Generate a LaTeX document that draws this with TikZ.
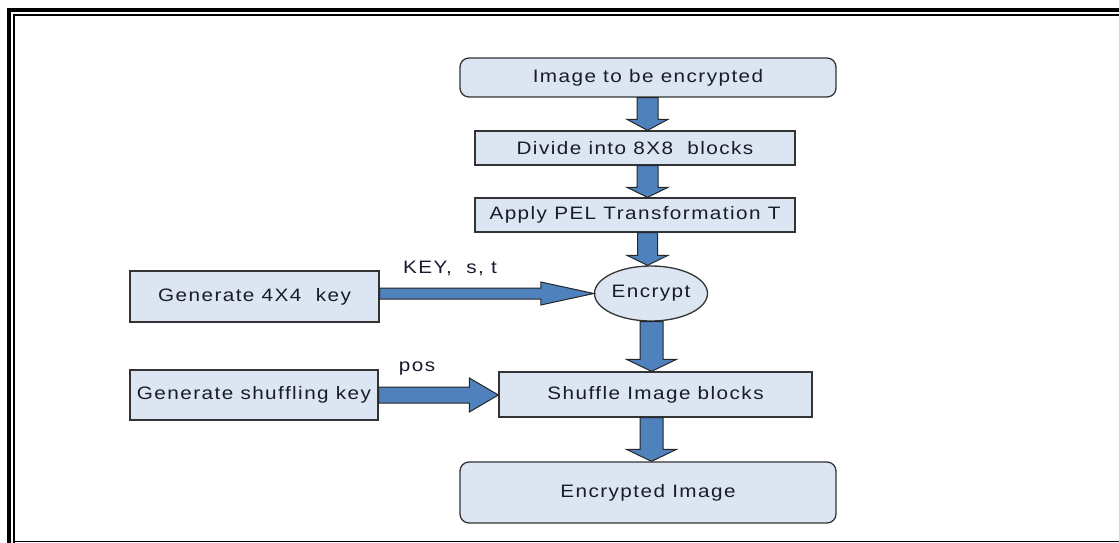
\documentclass[tikz,border=0pt]{standalone}
\usepackage{fontspec}
\setmainfont{Liberation Sans}[LetterSpace=8, FakeStretch=1.15]
\usetikzlibrary{calc,shapes.geometric}
\definecolor{boxfill}{HTML}{DCE6F2}
\definecolor{arrowfill}{HTML}{4F81BD}
\definecolor{boxline}{HTML}{333333}
\definecolor{txt}{HTML}{1A1A2E}
\tikzset{
  stepbox/.style={draw=boxline, line width=1.3pt, fill=boxfill, inner sep=0pt,
    text=txt, font=\fontsize{18}{20}\selectfont},
  roundbox/.style={stepbox, rounded corners=9pt},
  ellbox/.style={stepbox, ellipse},
  fatarrow/.style={fill=arrowfill, draw=black!85, line width=1pt, line join=miter},
  lbl/.style={font=\fontsize{18}{20}\selectfont, inner sep=0pt, text=txt},
  frameline/.style={draw=black, line cap=butt},
}
% vertical block arrow: from, to, x, half shaft, half head, head length
\newcommand\vfat[6]{%
  \filldraw[fatarrow] let \p1=(#1.south), \p2=(#2.north) in
    ({#3pt-#4pt},\y1) -- ({#3pt+#4pt},\y1) -- ({#3pt+#4pt},{\y2+#6pt})
    -- ({#3pt+#5pt},{\y2+#6pt}) -- (#3pt,\y2) -- ({#3pt-#5pt},{\y2+#6pt})
    -- ({#3pt-#4pt},{\y2+#6pt}) -- cycle;}
% horizontal block arrow: from, to, y (down), half shaft, half head, head length
\newcommand\hfat[6]{%
  \filldraw[fatarrow] let \p1=(#1.east), \p2=(#2.west) in
    (\x1,{-#3pt+#4pt}) -- ({\x2-#6pt},{-#3pt+#4pt}) -- ({\x2-#6pt},{-#3pt+#5pt})
    -- (\x2,-#3pt) -- ({\x2-#6pt},{-#3pt-#5pt}) -- ({\x2-#6pt},{-#3pt-#4pt})
    -- (\x1,{-#3pt-#4pt}) -- cycle;}
\begin{document}
\begin{tikzpicture}[x=1pt, y=-1pt]
\useasboundingbox (0,0) rectangle (1119,543);
% frame
\draw[frameline, line width=4pt] (9,543) -- (9,10) -- (1119,10);
\draw[frameline, line width=2pt] (14,543) -- (14,15) -- (1119,15);
\draw[frameline, line width=1.5pt] (14,541.5) -- (1119,541.5);
% nodes
\node[roundbox, minimum width=376pt, minimum height=39pt] (img) at (648,77.5) {Image to be encrypted};
\node[stepbox, minimum width=320pt, minimum height=34pt] (div) at (635,148) {Divide into 8X8\ \ blocks};
\node[stepbox, minimum width=320pt, minimum height=34pt] (pel) at (635,215) {Apply PEL Transformation T};
\node[ellbox, minimum width=113pt, minimum height=55pt] (enc) at (651,293.5) {Encrypt};
\node[stepbox, minimum width=249pt, minimum height=51pt] (gen4) at (254.5,296.5) {Generate 4X4\ \ key};
\node[stepbox, minimum width=313pt, minimum height=45pt] (shuf) at (655.5,394.5) {Shuffle Image blocks};
\node[stepbox, minimum width=248pt, minimum height=50pt] (gensh) at (254,395) {Generate shuffling key};
\node[roundbox, minimum width=376pt, minimum height=61pt] (out) at (648,492.5) {Encrypted Image};
% labels
\node[lbl] (lkey) at (450,268) {KEY,\ \ s, t};
\node[lbl] (lpos) at (417,369) {pos};
% block arrows
\vfat{img}{div}{647.5}{10.5}{20.5}{11}
\vfat{div}{pel}{647.5}{10.5}{20.5}{10}
\vfat{pel}{enc}{647.5}{10}{20.5}{10}
\vfat{enc}{shuf}{651.5}{11.5}{25}{12}
\vfat{shuf}{out}{651.5}{11.5}{25}{12}
\hfat{gen4}{enc}{293.5}{5.5}{11.5}{53}
\hfat{gensh}{shuf}{395}{8}{17}{29}
\end{tikzpicture}
\end{document}
